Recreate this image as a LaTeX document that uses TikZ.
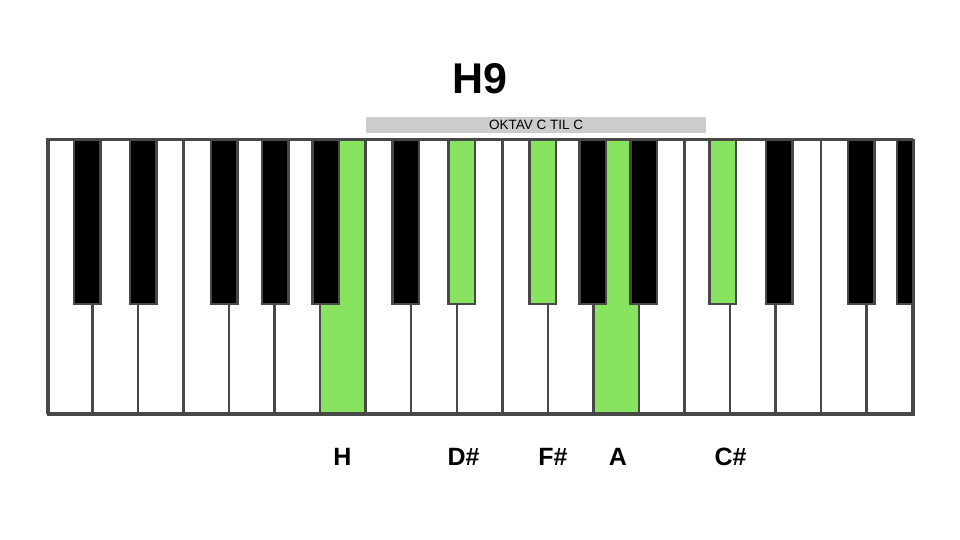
\documentclass[tikz,border=0pt]{standalone}
\usepackage{fontspec}
\setmainfont{Liberation Sans}
\definecolor{keyGreen}{RGB}{135,227,96}
\definecolor{keyEdge}{RGB}{72,72,72}
\definecolor{barGray}{RGB}{204,204,204}

\begin{document}
\begin{tikzpicture}
[x=1pt,y=-1pt,
  whiteKey/.style={draw=keyEdge,line width=2.5pt,anchor=north west,minimum width=45.53pt,minimum height=274pt,inner sep=0pt,outer sep=0pt},
  blackKey/.style={draw=keyEdge,line width=2.5pt,anchor=north,minimum width=26.5pt,minimum height=165pt,inner sep=0pt,outer sep=0pt},
  noteLabel/.style={anchor=base,font=\bfseries\fontsize{25}{25}\selectfont}]
\useasboundingbox (0,0) rectangle (960,540);
%% title and octave bar
\node[anchor=base,font=\bfseries\fontsize{43}{43}\selectfont] (title) at (480,94) {H9};
\node[fill=barGray,minimum width=340pt,minimum height=16pt,inner sep=0pt,
  font=\fontsize{13.5}{13.5}\selectfont] (octaveBar) at (536,125) {OKTAV C TIL C};
%% white keys
\foreach \i in {0,...,18}
{
  \def\keycol{white}
  \ifnum\i=6 \def\keycol{keyGreen}\fi
  \ifnum\i=12 \def\keycol{keyGreen}\fi
  \node[whiteKey,fill=\keycol] (white\i) at ({47+\i*45.53},139) {};
}
%% black keys
\begin{scope}
\clip (47,139) rectangle (912,413);
\foreach \keyname/\x/\keycol in {
  cs0/87/black, ds0/143/black, fs0/224/black, gs0/275/black, as0/325.5/black,
  cs1/405.5/black, ds1/461.5/keyGreen, fs1/542.5/keyGreen, gs1/592.5/black, as1/643.5/black,
  cs2/722.5/keyGreen, ds2/779/black, fs2/861/black, gs2/910/black}
{
  \node[blackKey,fill=\keycol] (\keyname) at (\x,139) {};
}
\end{scope}
\node[draw=keyEdge,line width=2.5pt,anchor=north west,minimum width=865pt,
  minimum height=274pt,inner sep=0pt] (keyboard) at (47,139) {};
%% note names
\foreach \lblname/\x/\txt in {lblH/342.5/H, lblDs/463.5/D\#, lblFs/553/F\#, lblA/618/A, lblCs/730.5/C\#}
{
  \node[noteLabel] (\lblname) at (\x,465) {\txt};
}
\end{tikzpicture}
\end{document}
